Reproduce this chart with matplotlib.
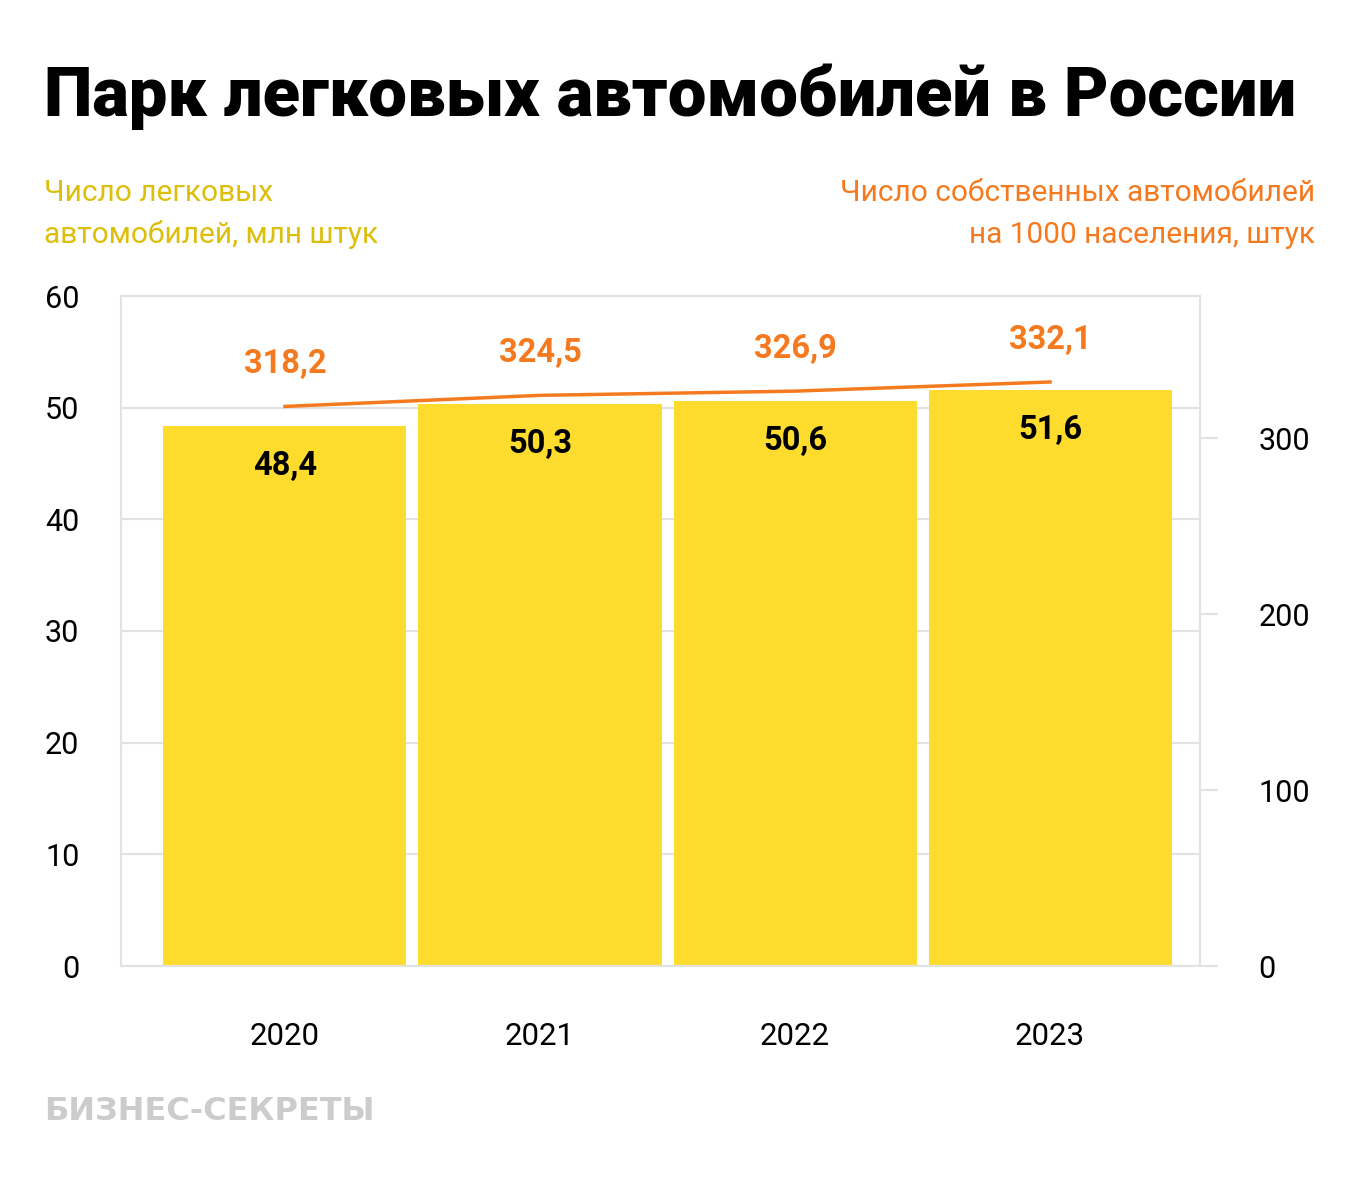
import matplotlib
matplotlib.use("Agg")
import matplotlib.pyplot as plt
import numpy as np

years = ["2020", "2021", "2022", "2023"]
cars_mln = [48.4, 50.3, 50.6, 51.6]
cars_per_1000 = [318.2, 324.5, 326.9, 332.1]
cars_labels = ["48,4", "50,3", "50,6", "51,6"]
per_labels = ["318,2", "324,5", "326,9", "332,1"]
left_ticks = [0, 10, 20, 30, 40, 50, 60]
right_ticks = [0, 100, 200, 300]

YELLOW = "#FEDC2E"
ORANGE = "#F57A1F"
SUB_YELLOW = "#DDBE0A"
GRID = "#E2E2E2"

plt.rcParams['font.family'] = ['Roboto', 'DejaVu Sans']

W, H = 1360, 1189
fig = plt.figure(figsize=(W/100, H/100), dpi=100)
ax = fig.add_axes([121/W, 1-966/H, (1200-121)/W, (966-296)/H])
x = np.arange(len(years))
ax.bar(x, cars_mln, width=0.953, color=YELLOW, zorder=2)
ax.set_xlim(-0.643, 3.588)
ax.set_ylim(0, 60)
ax.set_yticks(left_ticks)
ax.set_yticklabels([str(t) for t in left_ticks], fontsize=22)
ax.tick_params(axis='y', length=0, pad=30)
ax.set_xticks(x)
ax.set_xticklabels(years, fontsize=22.5)
ax.tick_params(axis='x', length=0, pad=40)
ax.grid(axis='y', color=GRID, linewidth=1.5, zorder=0)
for s in ax.spines.values():
    s.set_color(GRID)
    s.set_linewidth(1.5)

for xi, v, lab in zip(x, cars_mln, cars_labels):
    ax.annotate(lab, (xi, v), xytext=(0, -40), textcoords='offset pixels',
                ha='center', va='center', fontsize=23.5, fontweight='bold', color='black', zorder=5)

ax2 = ax.twinx()
ax2.plot(x, cars_per_1000, color=ORANGE, linewidth=2.5, zorder=4)
ax2.set_ylim(0, 381)
ax2.set_yticks(right_ticks)
ax2.set_yticklabels([str(t) for t in right_ticks], fontsize=22)
ax2.tick_params(axis='y', length=13, width=1.5, color=GRID, pad=29)
for lab in ax2.get_yticklabels():
    lab.set_horizontalalignment('left')
for s in ax2.spines.values():
    s.set_visible(False)
for xi, v, lab in zip(x, cars_per_1000, per_labels):
    ax2.annotate(lab, (xi, v), xytext=(0, 42), textcoords='offset pixels',
                 ha='center', va='center', fontsize=23.5, fontweight='bold', color=ORANGE, zorder=5)

fig.text(44/W, 1-97/H, "Парк легковых автомобилей в России", fontsize=49.5, fontweight='black',
         ha='left', va='center', color='black')
fig.text(44/W, 1-214/H, "Число легковых\nавтомобилей, млн штук", fontsize=21.5, color=SUB_YELLOW,
         ha='left', va='center', linespacing=1.6)
fig.text(1315/W, 1-214/H, "Число собственных автомобилей\nна 1000 населения, штук", fontsize=21.5,
         color=ORANGE, ha='right', va='center', linespacing=1.6, multialignment='right')
fig.text(44/W, 1-1112/H, "БИЗНЕС-СЕКРЕТЫ", fontsize=23, fontweight='bold', color='#CCCCCC',
         family='DejaVu Sans', ha='left', va='center')

fig.savefig("out.png", dpi=100, facecolor='white')
